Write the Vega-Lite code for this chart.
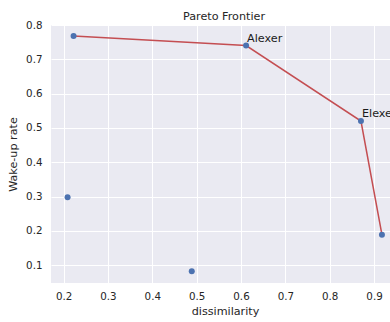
{
  "$schema": "https://vega.github.io/schema/vega-lite/v6.json",
  "width": 339,
  "height": 258,
  "autosize": {"type": "none"},
  "padding": {"left": 51, "top": 25, "right": 0, "bottom": 39},
  "background": "white",
  "title": {"text": "Pareto Frontier", "fontSize": 11.2, "fontWeight": "normal", "font": "DejaVu Sans", "color": "#262626", "offset": -2, "dx": 3.5},
  "config": {
    "view": {"fill": "#eaeaf2", "stroke": null},
    "axis": {
      "domain": false, "ticks": false, "grid": true, "gridColor": "white", "gridWidth": 1,
      "labelFont": "DejaVu Sans", "labelFontSize": 10.3, "labelColor": "#262626",
      "titleFont": "DejaVu Sans", "titleFontSize": 11.2, "titleFontWeight": "normal", "titleColor": "#262626"
    }
  },
  "data": {"values": [
    {"dissimilarity": 0.2225, "wake": 0.768, "pareto": true, "order": 1, "name": ""},
    {"dissimilarity": 0.6115, "wake": 0.740, "pareto": true, "order": 2, "name": "Alexer"},
    {"dissimilarity": 0.8705, "wake": 0.520, "pareto": true, "order": 3, "name": "Elexe"},
    {"dissimilarity": 0.9178, "wake": 0.189, "pareto": true, "order": 4, "name": ""},
    {"dissimilarity": 0.209, "wake": 0.298, "pareto": false, "order": 5, "name": ""},
    {"dissimilarity": 0.489, "wake": 0.082, "pareto": false, "order": 6, "name": ""}
  ]},
  "encoding": {
    "x": {"field": "dissimilarity", "type": "quantitative", "title": "dissimilarity",
      "scale": {"domain": [0.1716, 0.936], "nice": false, "zero": false},
      "axis": {"values": [0.2, 0.3, 0.4, 0.5, 0.6, 0.7, 0.8, 0.9], "format": ".1f", "labelPadding": 8, "titlePadding": 4, "titleX": 174}},
    "y": {"field": "wake", "type": "quantitative", "title": "Wake-up rate",
      "scale": {"domain": [0.048, 0.8], "nice": false, "zero": false},
      "axis": {"values": [0.1, 0.2, 0.3, 0.4, 0.5, 0.6, 0.7, 0.8], "format": ".1f", "labelPadding": 9, "titlePadding": 7}}
  },
  "layer": [
    {"transform": [{"filter": "datum.pareto"}],
     "mark": {"type": "line", "color": "#c44e52", "strokeWidth": 1.5, "clip": true},
     "encoding": {"order": {"field": "order", "type": "quantitative"}}},
    {"mark": {"type": "circle", "color": "#4c72b0", "opacity": 1, "size": 36, "clip": true}},
    {"transform": [{"filter": "datum.name != ''"}],
     "mark": {"type": "text", "align": "left", "baseline": "alphabetic", "dx": 1, "dy": -4, "font": "DejaVu Sans", "fontSize": 11.2, "color": "#1a1a1a", "clip": true},
     "encoding": {"text": {"field": "name"}}}
  ]
}
